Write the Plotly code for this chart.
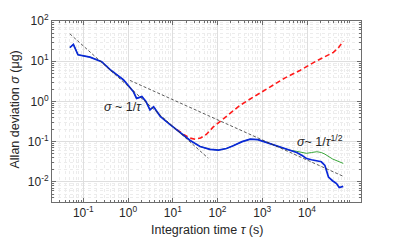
import plotly.graph_objects as go

# ---- data ----
tau_blue = [0.050, 0.060, 0.076, 0.141, 0.257, 0.398, 0.785, 1.07, 1.32, 1.55, 2.04, 2.51,
            3.09, 3.72, 5.25, 7.94, 12.3, 17.8, 24.5, 40.7, 67.6, 105, 158, 224, 355, 537,
            794, 1047, 1585, 2512, 3981, 5888, 7943, 9772, 12590, 16600, 20890, 25120,
            30200, 37150, 45710, 52480, 64570]
sig_blue = [21.9, 26.3, 14.5, 12.6, 9.77, 6.17, 3.47, 2.29, 1.74, 1.19, 1.32, 1.0,
            0.617, 0.741, 0.427, 0.288, 0.200, 0.145, 0.107, 0.0759, 0.0646, 0.0617, 0.0676,
            0.0794, 0.100, 0.115, 0.112, 0.102, 0.0871, 0.0724, 0.0617, 0.0537, 0.0447,
            0.0380, 0.0355, 0.0339, 0.0316, 0.0257, 0.0132, 0.0107, 0.00912, 0.00724, 0.00776]

tau_green_tail = [5888, 7943, 9772, 12590, 16600, 20890, 25120, 37150, 45710, 64570]
sig_green_tail = [0.0575, 0.0537, 0.0513, 0.0537, 0.0562, 0.0537, 0.0490, 0.0372, 0.0339, 0.0288]
n_shared = 31  # green coincides with blue up to tau = 3981 s
tau_green = tau_blue[:n_shared] + tau_green_tail
sig_green = sig_blue[:n_shared] + sig_green_tail

tau_red = [12.3, 17.8, 24.0, 31.6, 41.7, 56.2, 79.4, 112, 158, 224, 316, 537, 794, 1047,
           1778, 3162, 6918, 15850, 38900, 50120, 64570]
sig_red = [0.200, 0.148, 0.123, 0.115, 0.123, 0.151, 0.229, 0.316, 0.427, 0.575, 0.794,
           1.15, 1.51, 1.82, 2.63, 3.80, 5.89, 10.0, 16.6, 21.4, 31.6]

# reference slopes
tau_slope1 = [0.05, 62]
k_slope1 = 2.4            # sigma = k / tau
tau_slope_half = [1.1, 65000]
k_slope_half = 3.5        # sigma = k / sqrt(tau)
sig_slope1 = [k_slope1 / t for t in tau_slope1]
sig_slope_half = [k_slope_half / t ** 0.5 for t in tau_slope_half]

x_tick_exp = [-1, 0, 1, 2, 3, 4]
y_tick_exp = [-2, -1, 0, 1, 2]

# ---- figure ----
fig = go.Figure()
fig.add_trace(go.Scatter(x=tau_red, y=sig_red, mode="lines",
                         line=dict(color="#ff1a1a", width=1.6, dash="5px,3px")))
fig.add_trace(go.Scatter(x=tau_green, y=sig_green, mode="lines",
                         line=dict(color="#3aa63a", width=1)))
fig.add_trace(go.Scatter(x=tau_blue, y=sig_blue, mode="lines",
                         line=dict(color="#0a28d8", width=1.7)))
fig.add_trace(go.Scatter(x=tau_slope1, y=sig_slope1, mode="lines",
                         line=dict(color="#333333", width=0.8, dash="3px,2px")))
fig.add_trace(go.Scatter(x=tau_slope_half, y=sig_slope_half, mode="lines",
                         line=dict(color="#333333", width=0.8, dash="3px,2px")))

def minor_vals(lo, hi):
    vals = []
    for e in range(lo, hi + 1):
        for m in range(2, 10):
            vals.append(m * 10.0 ** e)
    return vals

font = dict(family="Liberation Sans, Arial, sans-serif", size=12, color="#262626")

axis_common = dict(type="log", showline=True, linecolor="#6e6e6e", linewidth=1, mirror="ticks",
                   ticks="inside", ticklen=4, tickcolor="#6e6e6e",
                   showgrid=True, gridcolor="#dedede", gridwidth=1, zeroline=False,
                   tickfont=font)

fig.update_xaxes(**axis_common, range=[-1.70, 5.207],
                 tickmode="array", tickvals=[10.0 ** e for e in x_tick_exp],
                 ticktext=["10<sup>%d</sup>" % e for e in x_tick_exp],
                 minor=dict(tickmode="array", tickvals=minor_vals(-2, 5), ticks="inside",
                            ticklen=2, tickcolor="#6e6e6e", showgrid=True,
                            gridcolor="#ececec", griddash="dot"))
fig.update_yaxes(**axis_common, range=[-2.5, 2.0],
                 tickmode="array", tickvals=[10.0 ** e for e in y_tick_exp],
                 ticktext=["10<sup>%d</sup>" % e for e in y_tick_exp],
                 minor=dict(tickmode="array", tickvals=minor_vals(-3, 2), ticks="inside",
                            ticklen=2, tickcolor="#6e6e6e", showgrid=True,
                            gridcolor="#ececec", griddash="dot"))

tfont = dict(family="Liberation Sans, Arial, sans-serif", size=12.5, color="#262626")
fig.update_layout(
    width=399, height=241,
    margin=dict(l=52, r=38, t=18, b=39),
    paper_bgcolor="white", plot_bgcolor="white",
    showlegend=False,
    annotations=[
        dict(text="Integration time <i>τ</i> (s)", xref="paper", yref="paper", x=0.5, y=0,
             yshift=-28, showarrow=False, font=tfont, xanchor="center", yanchor="middle"),
        dict(text="Allan deviation <i>σ</i> (μg)", xref="paper", yref="paper", x=0, y=0.5,
             xshift=-38, yshift=2, textangle=-90, showarrow=False, font=tfont,
             xanchor="center", yanchor="middle"),
        dict(text="<i>σ</i> ~ 1/<i>τ</i>", xref="x", yref="y", x=-0.11, y=-0.15,
             showarrow=False, font=tfont, xanchor="center", yanchor="middle"),
        dict(text="<i>σ</i>~ 1/<i>τ</i><sup>1/2</sup>", xref="x", yref="y", x=4.29, y=-0.98,
             showarrow=False, font=tfont, xanchor="center", yanchor="middle"),
    ],
)

fig.write_html("out.html", config={"displayModeBar": False},
               post_script="document.body.style.margin='0';")
